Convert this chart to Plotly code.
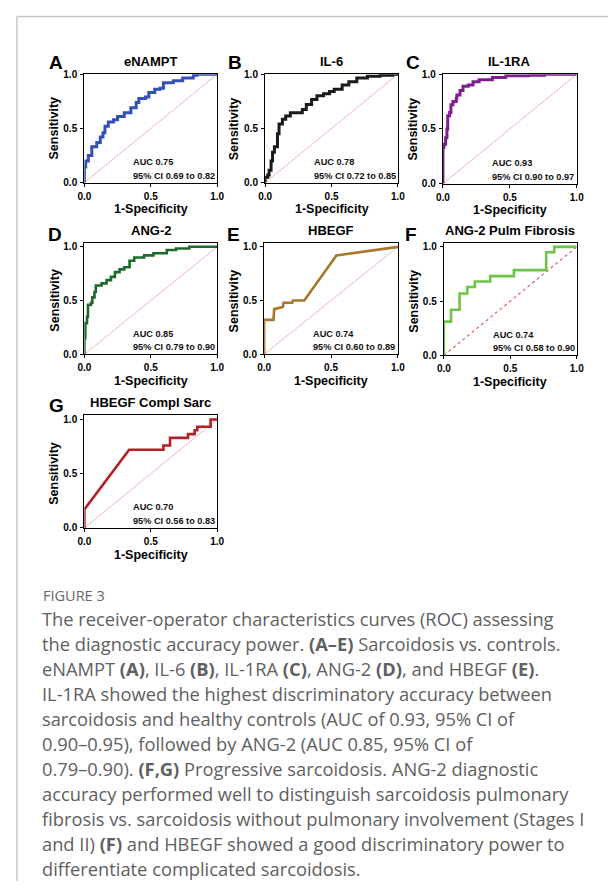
import plotly.graph_objects as go

# ---------------- data ----------------
tick_vals = [0, 0.5, 1.0]
tick_text = ["0.0", "0.5", "1.0"]

panel_letters = ["A", "B", "C", "D", "E", "F", "G"]
panel_titles = ["eNAMPT", "IL-6", "IL-1RA", "ANG-2", "HBEGF", "ANG-2 Pulm Fibrosis", "HBEGF Compl Sarc"]
auc_values = ["0.75", "0.78", "0.93", "0.85", "0.74", "0.74", "0.70"]
ci_values = ["0.69 to 0.82", "0.72 to 0.85", "0.90 to 0.97", "0.79 to 0.90",
             "0.60 to 0.89", "0.58 to 0.90", "0.56 to 0.83"]

enampt_fpr = [0, 0, 0.01, 0.03, 0.056, 0.093, 0.12, 0.14, 0.155, 0.18, 0.22, 0.25, 0.30, 0.35, 0.39,
              0.41, 0.46, 0.485, 0.53, 0.57, 0.595, 0.67, 0.74, 0.82, 0.85, 1.0]
enampt_tpr = [0, 0.145, 0.2, 0.25, 0.33, 0.37, 0.42, 0.46, 0.52, 0.56, 0.58, 0.61, 0.645, 0.69, 0.74,
              0.775, 0.79, 0.83, 0.86, 0.87, 0.92, 0.94, 0.965, 0.99, 1.0, 1.0]

il6_fpr = [0, 0, 0.02, 0.03, 0.045, 0.056, 0.07, 0.093, 0.105, 0.13, 0.155, 0.19, 0.28, 0.31, 0.35,
           0.39, 0.44, 0.485, 0.52, 0.58, 0.63, 0.69, 0.77, 0.865, 0.96, 1.0]
il6_tpr = [0, 0.05, 0.07, 0.115, 0.2, 0.28, 0.33, 0.45, 0.54, 0.585, 0.615, 0.645, 0.675, 0.72, 0.767,
           0.80, 0.82, 0.84, 0.86, 0.90, 0.93, 0.964, 0.98, 0.99, 1.0, 1.0]

il1ra_fpr = [0, 0, 0.007, 0.02, 0.03, 0.036, 0.05, 0.06, 0.075, 0.1, 0.104, 0.128, 0.15, 0.19, 0.225,
             0.27, 0.37, 0.47, 0.64, 0.76, 1.0]
il1ra_tpr = [0, 0.33, 0.36, 0.42, 0.50, 0.62, 0.65, 0.72, 0.75, 0.78, 0.81, 0.85, 0.89, 0.90, 0.93,
             0.95, 0.97, 0.985, 0.99, 1.0, 1.0]

ang2_fpr = [0, 0, 0.007, 0.02, 0.027, 0.05, 0.06, 0.076, 0.086, 0.13, 0.167, 0.2, 0.23, 0.265, 0.30,
            0.34, 0.375, 0.45, 0.52, 0.62, 0.69, 0.79, 1.0]
ang2_tpr = [0, 0.15, 0.29, 0.35, 0.46, 0.48, 0.53, 0.58, 0.64, 0.66, 0.69, 0.72, 0.765, 0.79, 0.81,
            0.87, 0.90, 0.92, 0.94, 0.97, 0.985, 1.0, 1.0]

hbegf_fpr = [0, 0, 0.07, 0.075, 0.14, 0.145, 0.21, 0.215, 0.30, 0.54, 1.0]
hbegf_tpr = [0, 0.32, 0.32, 0.42, 0.44, 0.48, 0.48, 0.50, 0.50, 0.92, 1.0]

ang2_pf_fpr = [0, 0, 0.054, 0.118, 0.176, 0.233, 0.348, 0.527, 0.77, 0.83, 1.0]
ang2_pf_tpr = [0, 0.31, 0.42, 0.57, 0.63, 0.68, 0.73, 0.785, 0.95, 1.0, 1.0]

hbegf_cs_fpr = [0, 0, 0.337, 0.595, 0.595, 0.645, 0.645, 0.78, 0.78, 0.83, 0.83, 0.85, 0.85, 0.95, 0.95, 1.0]
hbegf_cs_tpr = [0, 0.17, 0.72, 0.72, 0.76, 0.76, 0.83, 0.83, 0.865, 0.865, 0.90, 0.90, 0.933, 0.933, 1.0, 1.0]

ref_line = [0, 1]

curves = [(enampt_fpr, enampt_tpr), (il6_fpr, il6_tpr), (il1ra_fpr, il1ra_tpr), (ang2_fpr, ang2_tpr),
          (hbegf_fpr, hbegf_tpr), (ang2_pf_fpr, ang2_pf_tpr), (hbegf_cs_fpr, hbegf_cs_tpr)]

caption_label = "FIGURE 3"
caption_lines = [
    "The receiver-operator characteristics curves (ROC) assessing",
    "the diagnostic accuracy power. <b>(A–E)</b> Sarcoidosis vs. controls.",
    "eNAMPT <b>(A)</b>, IL-6 <b>(B)</b>, IL-1RA <b>(C)</b>, ANG-2 <b>(D)</b>, and HBEGF <b>(E)</b>.",
    "IL-1RA showed the highest discriminatory accuracy between",
    "sarcoidosis and healthy controls (AUC of 0.93, 95% CI of",
    "0.90–0.95), followed by ANG-2 (AUC 0.85, 95% CI of",
    "0.79–0.90). <b>(F,G)</b> Progressive sarcoidosis. ANG-2 diagnostic",
    "accuracy performed well to distinguish sarcoidosis pulmonary",
    "fibrosis vs. sarcoidosis without pulmonary involvement (Stages I",
    "and II) <b>(F)</b> and HBEGF showed a good discriminatory power to",
    "differentiate complicated sarcoidosis.",
]

# ---------------- styling / layout ----------------
# The page body has an 8px default margin, so the figure is drawn 8px smaller and
# every target pixel position (in screenshot coordinates) is shifted by OFF.
OFF = 8
W, H = 608, 880

colors = ["#3550b4", "#1a1a1a", "#7d1f8c", "#1e6a2c", "#a8762c", "#6cc449", "#b21f24"]
widths = [3, 3, 3, 2.6, 2.6, 2.6, 2.6]
shapes_line = ["hv", "hv", "hv", "hv", "linear", "hv", "linear"]

# plot boxes in screenshot pixels: (left, right, top_of_box, bottom(y=0), ymax)
boxes = [
    (79, 215, 69, 179, 1.0),
    (264, 400, 69, 179, 1.0),
    (446, 583, 69, 180, 1.0),
    (79, 215, 240, 353, 1.037),
    (263, 400, 240, 353, 1.037),
    (447, 583, 240, 354, 1.037),
    (79, 215, 415, 529, 1.037),
]
letter_pos = [(50, 57), (233, 57), (415, 57), (49, 232), (232, 232), (413, 232), (50, 405)]

FONT = "Liberation Sans, Arial, sans-serif"
CAPFONT = "Open Sans, sans-serif"


def px(x):
    return (x - OFF) / W


def py(y):
    return 1 - (y - OFF) / H


fig = go.Figure()
layout = dict(width=W, height=H, margin=dict(l=0, r=0, t=0, b=0), autosize=False,
              paper_bgcolor="white", plot_bgcolor="white", showlegend=False)
annotations = []
shapes = []

for i, (box, (fx, ty)) in enumerate(zip(boxes, curves)):
    n = "" if i == 0 else str(i + 1)
    xa, ya = "x" + n, "y" + n
    left, right, top, bottom, ymax = box
    axis_common = dict(
        showgrid=False, zeroline=False, showline=True, linecolor="black", linewidth=1.3,
        mirror=True, ticks="outside", ticklen=3, tickwidth=1.2, tickcolor="black",
        tickvals=tick_vals, ticktext=tick_text,
        tickfont=dict(family=FONT, size=10, color="black", weight="bold"),
    )
    layout["xaxis" + n] = dict(axis_common, domain=[px(left), px(right)], range=[0, 1],
                               anchor=ya, ticklabelstandoff=1)
    layout["yaxis" + n] = dict(axis_common, domain=[py(bottom), py(top)], range=[0, ymax],
                               anchor=xa, ticklabelstandoff=1)

    # reference diagonal
    if i == 5:
        fig.add_trace(go.Scatter(x=ref_line, y=ref_line, xaxis=xa, yaxis=ya, mode="lines",
                                 line=dict(color="#e06060", width=1.2, dash="dot"), hoverinfo="skip"))
    else:
        fig.add_trace(go.Scatter(x=ref_line, y=ref_line, xaxis=xa, yaxis=ya, mode="lines",
                                 line=dict(color="#f2b8b8", width=1), hoverinfo="skip"))
    fig.add_trace(go.Scatter(x=fx, y=ty, xaxis=xa, yaxis=ya, mode="lines",
                             line=dict(color=colors[i], width=widths[i], shape=shapes_line[i])))

    ytop1 = bottom - (bottom - top) / ymax  # pixel of y=1.0
    cx = (left + right) / 2
    # panel letter
    annotations.append(dict(text="<b>" + panel_letters[i] + "</b>", x=px(letter_pos[i][0]),
                            y=py(letter_pos[i][1]), xref="paper", yref="paper", showarrow=False,
                            xanchor="center", yanchor="middle",
                            font=dict(family=FONT, size=19, color="black")))
    # title
    annotations.append(dict(text="<b>" + panel_titles[i] + "</b>", x=px(cx), y=py(top - 13),
                            xref="paper", yref="paper", showarrow=False, xanchor="center",
                            yanchor="middle", font=dict(family=FONT, size=13, color="black")))
    # axis titles
    annotations.append(dict(text="<b>1-Specificity</b>", x=px(cx), y=py(bottom + 27),
                            xref="paper", yref="paper", showarrow=False, xanchor="center",
                            yanchor="middle", font=dict(family=FONT, size=12.5, color="black")))
    annotations.append(dict(text="<b>Sensitivity</b>", x=px(left - 31), y=py((bottom + ytop1) / 2),
                            xref="paper", yref="paper", showarrow=False, xanchor="center",
                            yanchor="middle", textangle=-90,
                            font=dict(family=FONT, size=12.5, color="black")))
    # AUC text
    annotations.append(dict(text="<b>AUC " + auc_values[i] + "</b>", x=px(left + 48), y=py(bottom - 21),
                            xref="paper", yref="paper", showarrow=False, xanchor="left",
                            yanchor="middle", font=dict(family=FONT, size=9.2, color="#111")))
    annotations.append(dict(text="<b>95% CI " + ci_values[i] + "</b>", x=px(left + 48), y=py(bottom - 7),
                            xref="paper", yref="paper", showarrow=False, xanchor="left",
                            yanchor="middle", font=dict(family=FONT, size=9.2, color="#111")))

# caption
annotations.append(dict(text=caption_label, x=px(35), y=py(598), xref="paper", yref="paper",
                        showarrow=False, xanchor="left", yanchor="middle",
                        font=dict(family=CAPFONT, size=14.5, color="#666")))
for k, line in enumerate(caption_lines):
    annotations.append(dict(text=line, x=px(34), y=py(621 + k * 25.3), xref="paper", yref="paper",
                            showarrow=False, xanchor="left", yanchor="middle",
                            font=dict(family=CAPFONT, size=18.3, color="#606060")))

# frame lines
shapes.append(dict(type="line", xref="paper", yref="paper", x0=px(10), x1=1, y0=py(10.5), y1=py(10.5),
                   line=dict(color="#c8c8c8", width=1.5)))
shapes.append(dict(type="line", xref="paper", yref="paper", x0=px(10), x1=px(10), y0=py(10.5), y1=py(887),
                   line=dict(color="#c8c8c8", width=1.5)))

layout["annotations"] = annotations
layout["shapes"] = shapes
fig.update_layout(**layout)
fig.write_html("out.html")
